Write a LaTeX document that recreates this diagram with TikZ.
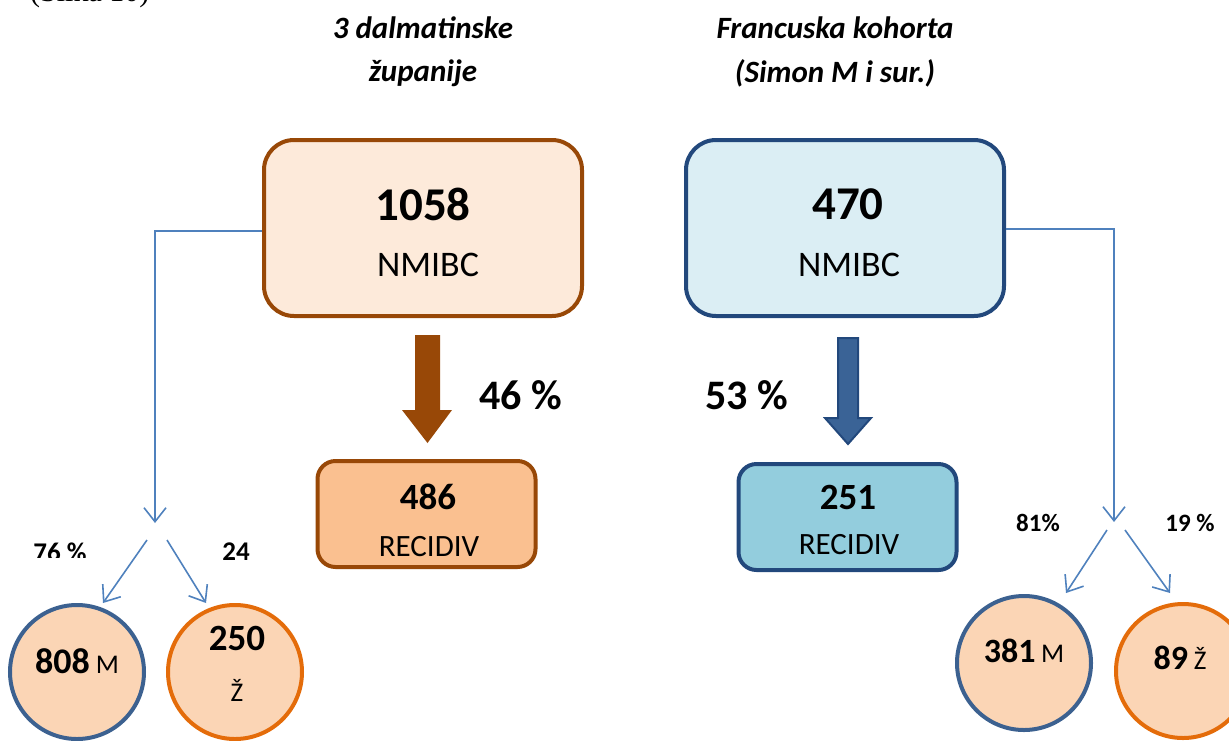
\documentclass[tikz,border=0pt]{standalone}
\usepackage{fontspec}
\setmainfont{Carlito}
\newfontfamily\timesfont{Liberation Serif}
\usetikzlibrary{arrows.meta}
\definecolor{brownb}{HTML}{984807}
\definecolor{fillA}{HTML}{FDEADA}
\definecolor{fillB}{HTML}{FAC090}
\definecolor{blueb}{HTML}{22487C}
\definecolor{fillC}{HTML}{DBEEF4}
\definecolor{fillD}{HTML}{93CDDD}
\definecolor{arrblue}{HTML}{3A6396}
\definecolor{conn}{HTML}{4F81BD}
\definecolor{circM}{HTML}{3C6190}
\definecolor{circZ}{HTML}{E46C0A}
\definecolor{circfill}{HTML}{FBD5B5}
\newcommand{\fsz}[1]{\fontsize{#1}{#1}\selectfont}
\tikzset{
  bigbox/.style={draw, rounded corners=30pt, line width=4pt, minimum width=318pt, minimum height=176pt, inner sep=0pt},
  smallbox/.style={draw, rounded corners=18pt, line width=4pt, minimum width=218pt, minimum height=106pt, inner sep=0pt},
  circ/.style={circle, draw, line width=4pt, fill=circfill, minimum size=134pt, inner sep=0pt},
  connline/.style={draw=conn, line width=1.6pt, -{Straight Barb[length=14pt,width=22pt,line width=1.6pt]}},
  title/.style={font=\fsz{31}\bfseries\itshape, align=center, inner sep=0pt},
  pct/.style={font=\fsz{42}\bfseries, inner sep=0pt},
  spct/.style={font=\fsz{25}\bfseries, inner sep=0pt},
}
\begin{document}
\begin{tikzpicture}[x=1pt,y=1pt]
\useasboundingbox (0,0) rectangle (1229,-740);
\clip (0,0) rectangle (1229,-740);
% cut-off caption
\node[font=\timesfont\fsz{30}, anchor=base west, inner sep=0pt] (cap) at (30,-1) {(Slika 10)};
% titles
\node[title] (t1) at (423,-28) {3 dalmatinske};
\node[title] (t1b) at (423,-73) {županije};
\node[title] (t2) at (835,-28) {Francuska kohorta};
\node[title] (t2b) at (835,-73) {(Simon M i sur.)};
% big boxes
\node[bigbox, draw=brownb, fill=fillA] (b1) at (423,-228) {};
\node[font=\fsz{47}\bfseries] at (423,-204) {1058};
\node[font=\fsz{36}] at (428,-265) {NMIBC};
\node[bigbox, draw=blueb, fill=fillC] (b2) at (845,-228) {};
\node[font=\fsz{47}\bfseries] at (848,-204) {470};
\node[font=\fsz{36}] at (849,-265) {NMIBC};
% small boxes
\node[smallbox, draw=brownb, fill=fillB] (b3) at (426.5,-514) {};
\node[font=\fsz{37}\bfseries] at (428,-497) {486};
\node[font=\fsz{31}] at (429,-547) {RECIDIV};
\node[smallbox, draw=blueb, fill=fillD] (b4) at (847.5,-517) {};
\node[font=\fsz{37}\bfseries] at (848,-497) {251};
\node[font=\fsz{31}] at (849,-545) {RECIDIV};
% block arrows
\fill[brownb] (415,-335) -- (440,-335) -- (440,-410) -- (452,-410) -- (427.5,-443) -- (402,-410) -- (415,-410) -- cycle;
\filldraw[fill=arrblue, draw=blueb, line width=2pt, line join=miter] (838,-338) -- (858,-338) -- (858,-418) -- (871,-418) -- (848,-444) -- (825,-418) -- (838,-418) -- cycle;
\node[pct] (p1) at (521,-395) {46 \%};
\node[pct] (p2) at (747,-395) {53 \%};
% left branch
\coordinate (lt) at (155,-523);
\draw[connline] (b1.west |- 0,-231) -| (lt);
\coordinate (ls1) at (147,-540);
\coordinate (le1) at (103,-603);
\coordinate (ls2) at (167,-540);
\coordinate (le2) at (206,-603);
\draw[connline] (ls1) -- (le1);
\draw[connline] (ls2) -- (le2);
\begin{scope}
\clip (0,-530) rectangle (120,-557);
\node[spct, font=\fsz{27}\bfseries] (l76) at (60,-552) {76 \%};
\end{scope}
\node[spct, font=\fsz{27}\bfseries] (l24) at (236,-552) {24};
\node[circ, draw=circM] (m1) at (77,-672) {};
\node[anchor=base, inner sep=0pt] at (77,-673) {\fsz{36}\bfseries 808\,\fsz{27}\mdseries M};
\node[circ, draw=circZ] (z1) at (235,-672) {};
\node[font=\fsz{37}\bfseries] at (237,-638) {250};
\node[font=\fsz{27}] at (237,-690) {Ž};
% right branch
\coordinate (rt) at (1114,-522);
\draw[connline] (b2.east |- 0,-229) -| (rt);
\coordinate (rs1) at (1107,-530);
\coordinate (re1) at (1066,-593);
\coordinate (rs2) at (1125,-530);
\coordinate (re2) at (1170,-593);
\draw[connline] (rs1) -- (re1);
\draw[connline] (rs2) -- (re2);
\node[spct] (l81) at (1038,-523) {81\%};
\node[spct] (l19) at (1190,-523) {19 \%};
\node[circ, draw=circM] (m2) at (1024,-663) {};
\node[anchor=base, inner sep=0pt] at (1024,-662) {\fsz{34}\bfseries 381\,\fsz{27}\mdseries M};
\node[circ, draw=circZ] (z2) at (1183,-671) {};
\node[anchor=base, inner sep=0pt] at (1180,-669) {\fsz{34}\bfseries 89\,\fsz{27}\mdseries Ž};
\end{tikzpicture}
\end{document}
